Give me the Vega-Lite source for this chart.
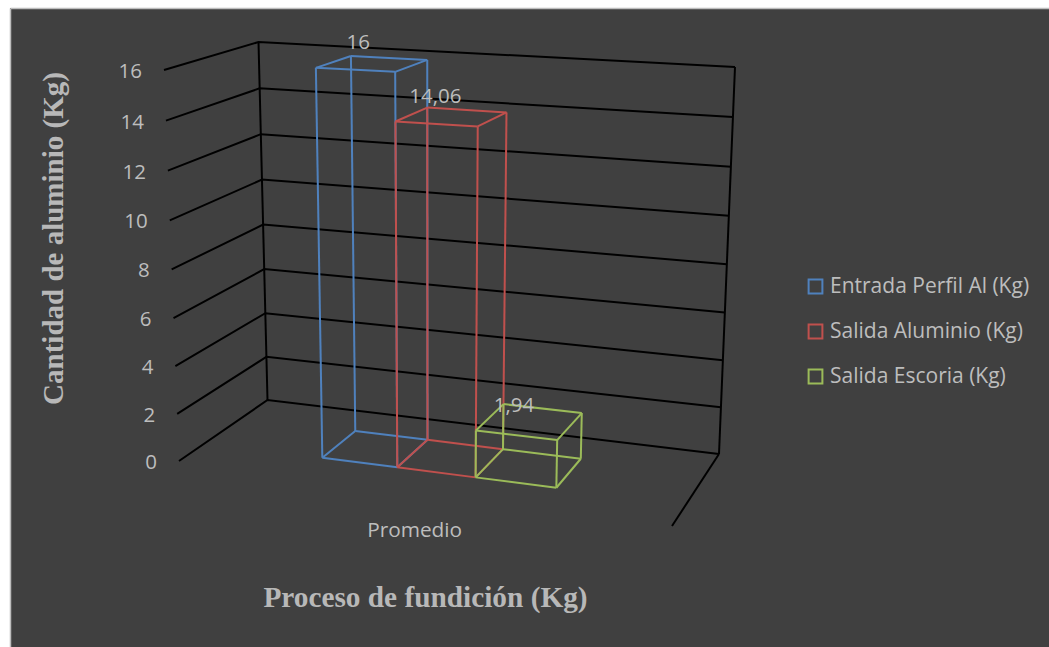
{
  "$schema": "https://vega.github.io/schema/vega-lite/v6.json",
  "width": 1039,
  "height": 639,
  "autosize": "none",
  "padding": {"left": 10, "top": 8, "right": 0, "bottom": 0},
  "background": "#ffffff",
  "config": {
    "view": {"fill": "#404040", "stroke": null},
    "text": {"font": "Open Sans", "color": "#bdbdbd"}
  },
  "datasets": {
    "barras": [
      {"serie": "Entrada Perfil Al (Kg)", "valor": 16, "orden": 0},
      {"serie": "Salida Aluminio (Kg)", "valor": 14.06, "orden": 1},
      {"serie": "Salida Escoria (Kg)", "valor": 1.94, "orden": 2}
    ],
    "marcas": [
      {"v": 0}, {"v": 2}, {"v": 4}, {"v": 6}, {"v": 8},
      {"v": 10}, {"v": 12}, {"v": 14}, {"v": 16}
    ],
    "aristas": [
      {"linea": "columna izquierda"},
      {"linea": "columna derecha"},
      {"linea": "borde del suelo"}
    ],
    "categoria": [{"nombre": "Promedio"}]
  },
  "encoding": {
    "x": {
      "field": "xp", "type": "quantitative",
      "scale": {"domain": [10, 1049], "nice": false, "zero": false},
      "axis": {
        "orient": "top", "domain": true, "domainColor": "#bdbdbd", "domainWidth": 1.5,
        "title": "Proceso de fundición (Kg)", "titleFont": "Liberation Serif", "titleFontWeight": "bold",
        "titleFontSize": 29.3, "titleColor": "#b8b8b8", "titleX": 415, "titleY": 589, "titleAlign": "center",
        "titleBaseline": "middle", "labels": false, "ticks": false, "grid": false
      }
    },
    "y": {
      "field": "yp", "type": "quantitative",
      "scale": {"domain": [647, 8], "nice": false, "zero": false},
      "axis": {
        "domain": true, "domainColor": "#bdbdbd", "domainWidth": 1.5,
        "title": "Cantidad de aluminio (Kg)", "titleFont": "Liberation Serif", "titleFontWeight": "bold",
        "titleFontSize": 29, "titleColor": "#b8b8b8", "titleX": 43, "titleY": 230, "titleAlign": "center",
        "titleBaseline": "middle", "titleAngle": -90, "labels": false, "ticks": false, "grid": false
      }
    }
  },
  "layer": [
    {
      "data": {"name": "marcas"},
      "transform": [
        {"calculate": "[{s:0,d:0,i:0},{s:0,d:1,i:1},{s:1,d:1,i:2}]", "as": "pts"},
        {"flatten": ["pts"], "as": ["p"]},
        {"calculate": "datum.p.s", "as": "s"},
        {"calculate": "datum.p.d", "as": "d"},
        {"calculate": "datum.p.i", "as": "i"},
        {"calculate": "(datum.v/16)-0.04*(datum.v/16)*(1-datum.v/16)", "as": "t"},
        {"calculate": "(1-datum.t)*((1-datum.s)*((1-datum.d)*179+datum.d*267.5)+datum.s*((1-datum.d)*672+datum.d*719))+datum.t*((1-datum.s)*((1-datum.d)*164+datum.d*258.5)+datum.s*((1-datum.d)*686+datum.d*735))", "as": "xp"},
        {"calculate": "(1-datum.t)*((1-datum.s)*((1-datum.d)*461+datum.d*400)+datum.s*((1-datum.d)*526+datum.d*454))+datum.t*((1-datum.s)*((1-datum.d)*70+datum.d*42)+datum.s*((1-datum.d)*96+datum.d*67))", "as": "yp"}
      ],
      "mark": {"type": "line", "color": "#000000", "strokeWidth": 2},
      "encoding": {"detail": {"field": "v"}, "order": {"field": "i"}}
    },
    {
      "data": {"name": "aristas"},
      "transform": [
        {"calculate": "datum.linea=='columna izquierda'?[{s:0,d:1,t:0},{s:0,d:1,t:1}]:datum.linea=='columna derecha'?[{s:1,d:1,t:0},{s:1,d:1,t:1}]:[{s:1,d:1,t:0},{s:1,d:0,t:0}]", "as": "pts"},
        {"flatten": ["pts"], "as": ["p"]},
        {"calculate": "datum.p.s", "as": "s"},
        {"calculate": "datum.p.d", "as": "d"},
        {"calculate": "datum.p.t", "as": "t"},
        {"calculate": "(1-datum.t)*((1-datum.s)*((1-datum.d)*179+datum.d*267.5)+datum.s*((1-datum.d)*672+datum.d*719))+datum.t*((1-datum.s)*((1-datum.d)*164+datum.d*258.5)+datum.s*((1-datum.d)*686+datum.d*735))", "as": "xp"},
        {"calculate": "(1-datum.t)*((1-datum.s)*((1-datum.d)*461+datum.d*400)+datum.s*((1-datum.d)*526+datum.d*454))+datum.t*((1-datum.s)*((1-datum.d)*70+datum.d*42)+datum.s*((1-datum.d)*96+datum.d*67))", "as": "yp"}
      ],
      "mark": {"type": "line", "color": "#000000", "strokeWidth": 2},
      "encoding": {"detail": {"field": "linea"}, "order": {"field": "t"}}
    },
    {
      "data": {"name": "marcas"},
      "transform": [
        {"calculate": "(datum.v/16)-0.04*(datum.v/16)*(1-datum.v/16)", "as": "t"},
        {"calculate": "(1-datum.t)*179+datum.t*164", "as": "xp"},
        {"calculate": "(1-datum.t)*461+datum.t*70", "as": "yp"}
      ],
      "mark": {"type": "text", "align": "right", "baseline": "middle", "dx": -22, "dy": 2, "fontSize": 20.5},
      "encoding": {"text": {"field": "v", "type": "quantitative"}}
    },
    {
      "data": {"name": "categoria"},
      "transform": [
        {"calculate": "0.486*672+0.514*179", "as": "xp"},
        {"calculate": "0.486*526+0.514*461", "as": "yp"}
      ],
      "mark": {"type": "text", "align": "center", "baseline": "middle", "dx": -4, "dy": 38, "fontSize": 20.8},
      "encoding": {"text": {"field": "nombre"}}
    },
    {
      "data": {"name": "barras"},
      "transform": [
        {"calculate": "[{e:0,a:0,b:0,c:0},{e:0,a:1,b:0,c:0},{e:1,a:1,b:0,c:0},{e:1,a:1,b:1,c:0},{e:2,a:1,b:1,c:0},{e:2,a:0,b:1,c:0},{e:3,a:0,b:1,c:0},{e:3,a:0,b:0,c:0},{e:4,a:0,b:0,c:1},{e:4,a:1,b:0,c:1},{e:5,a:1,b:0,c:1},{e:5,a:1,b:1,c:1},{e:6,a:1,b:1,c:1},{e:6,a:0,b:1,c:1},{e:7,a:0,b:1,c:1},{e:7,a:0,b:0,c:1},{e:8,a:0,b:0,c:0},{e:8,a:0,b:0,c:1},{e:9,a:1,b:0,c:0},{e:9,a:1,b:0,c:1},{e:10,a:1,b:1,c:0},{e:10,a:1,b:1,c:1},{e:11,a:0,b:1,c:0},{e:11,a:0,b:1,c:1}]", "as": "pts"},
        {"flatten": ["pts"], "as": ["p"]},
        {"calculate": "[0.243,0.399,0.562,0.73][datum.orden+datum.p.a]", "as": "s"},
        {"calculate": "0.3+0.42*datum.p.b", "as": "d"},
        {"calculate": "datum.valor*datum.p.c", "as": "v"},
        {"calculate": "(datum.v/16)-0.04*(datum.v/16)*(1-datum.v/16)", "as": "t"},
        {"calculate": "datum.serie+'-'+datum.p.e", "as": "arista"},
        {"calculate": "(1-datum.t)*((1-datum.s)*((1-datum.d)*179+datum.d*267.5)+datum.s*((1-datum.d)*672+datum.d*719))+datum.t*((1-datum.s)*((1-datum.d)*164+datum.d*258.5)+datum.s*((1-datum.d)*686+datum.d*735))", "as": "xp"},
        {"calculate": "(1-datum.t)*((1-datum.s)*((1-datum.d)*461+datum.d*400)+datum.s*((1-datum.d)*526+datum.d*454))+datum.t*((1-datum.s)*((1-datum.d)*70+datum.d*42)+datum.s*((1-datum.d)*96+datum.d*67))", "as": "yp"}
      ],
      "mark": {"type": "line", "strokeWidth": 2},
      "encoding": {
        "detail": {"field": "arista"},
        "color": {
          "field": "serie", "type": "nominal",
          "scale": {
            "domain": ["Entrada Perfil Al (Kg)", "Salida Aluminio (Kg)", "Salida Escoria (Kg)"],
            "range": ["#4f81bd", "#c0504d", "#9bbb59"]
          },
          "legend": {
            "title": null, "orient": "none", "legendX": 795, "legendY": 268, "padding": 0,
            "symbolType": "square", "symbolSize": 190, "symbolStrokeWidth": 2, "symbolFillColor": "transparent",
            "labelFont": "Open Sans", "labelFontSize": 21, "labelColor": "#bdbdbd", "labelOffset": 4,
            "rowPadding": 22, "labelLimit": 300
          }
        }
      }
    },
    {
      "data": {"name": "barras"},
      "transform": [
        {"calculate": "[0.321,0.48,0.653][datum.orden]", "as": "s"},
        {"calculate": "[0.51,0.48,0.43][datum.orden]", "as": "d"},
        {"calculate": "(datum.valor/16)-0.04*(datum.valor/16)*(1-datum.valor/16)", "as": "t"},
        {"calculate": "replace(toString(datum.valor),'.',',')", "as": "etiqueta"},
        {"calculate": "(1-datum.t)*((1-datum.s)*((1-datum.d)*179+datum.d*267.5)+datum.s*((1-datum.d)*672+datum.d*719))+datum.t*((1-datum.s)*((1-datum.d)*164+datum.d*258.5)+datum.s*((1-datum.d)*686+datum.d*735))", "as": "xp"},
        {"calculate": "(1-datum.t)*((1-datum.s)*((1-datum.d)*461+datum.d*400)+datum.s*((1-datum.d)*526+datum.d*454))+datum.t*((1-datum.s)*((1-datum.d)*70+datum.d*42)+datum.s*((1-datum.d)*96+datum.d*67))", "as": "yp"}
      ],
      "mark": {"type": "text", "align": "center", "baseline": "middle", "dx": -14, "dy": -21, "fontSize": 20.5},
      "encoding": {"text": {"field": "etiqueta"}}
    }
  ]
}
